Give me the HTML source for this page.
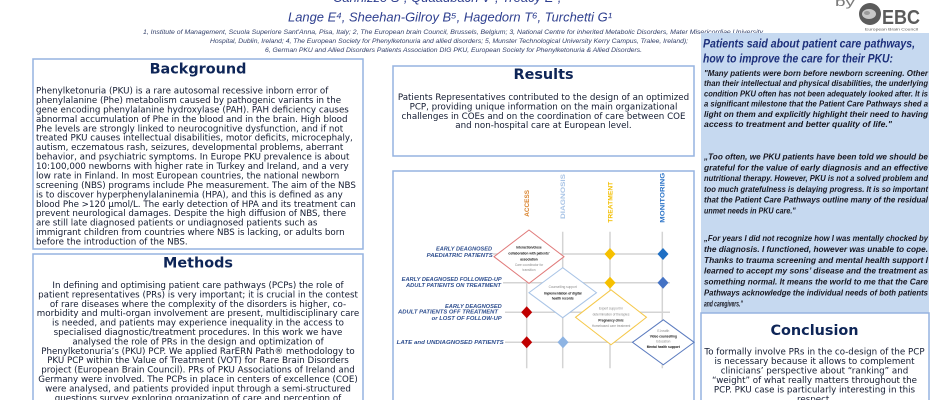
<!DOCTYPE html>
<html><head><meta charset="utf-8"><style>
html,body{margin:0;padding:0;background:#fff;width:940px;height:400px;overflow:hidden}
svg{display:block}
.b{font-family:"DejaVu Sans","Liberation Sans",sans-serif;font-size:8.7px;fill:#121a30}
.t{font-family:"DejaVu Sans","Liberation Sans",sans-serif;font-size:14.4px;font-weight:bold;fill:#0e2557}
.q{font-family:"Liberation Sans",sans-serif;font-size:7.8px;font-weight:bold;font-style:italic;fill:#16161f}
.h{font-family:"Liberation Sans",sans-serif;font-size:12.2px;font-weight:bold;font-style:italic;fill:#1c2f7a}
.af{font-family:"Liberation Sans",sans-serif;font-size:6px;font-style:italic;fill:#33406a}
.rl{font-family:"Liberation Sans",sans-serif;font-size:5.4px;font-weight:bold;font-style:italic;fill:#2f4f8f}
.dk{font-family:"Liberation Sans",sans-serif;font-size:3.2px;font-weight:bold;fill:#111}
.dg{font-family:"Liberation Sans",sans-serif;font-size:3.2px;fill:#8a8a8a}
.ch{font-family:"Liberation Sans",sans-serif;font-size:6.5px;font-weight:bold}
</style></head><body>
<svg width="940" height="400" viewBox="0 0 940 400" xmlns="http://www.w3.org/2000/svg">
<!-- Header -->
<text x="333" y="2" textLength="234" lengthAdjust="spacingAndGlyphs" style="font-family:'Liberation Sans',sans-serif;font-size:13px;font-style:italic;fill:#2e3f8f">Cannizzo S¹, Quaadbach V², Treacy E³,⁴</text>
<text x="288" y="21.5" textLength="324" lengthAdjust="spacingAndGlyphs" style="font-family:'Liberation Sans',sans-serif;font-size:13px;font-style:italic;fill:#2e3f8f">Lange E⁴, Sheehan-Gilroy B⁵, Hagedorn T⁶, Turchetti G¹</text>
<text class="af" x="143" y="34" textLength="620" lengthAdjust="spacingAndGlyphs">1, Institute of Management, Scuola Superiore Sant'Anna, Pisa, Italy; 2, The European brain Council, Brussels, Belgium; 3, National Centre for inherited Metabolic Disorders, Mater Misericordiae University</text>
<text class="af" x="210" y="43" textLength="478" lengthAdjust="spacingAndGlyphs">Hospital, Dublin, Ireland; 4, The European Society for Phenylketonuria and allied disorders; 5, Munster Technological University Kerry Campus, Tralee, Ireland);</text>
<text class="af" x="265" y="52" textLength="377" lengthAdjust="spacingAndGlyphs">6, German PKU and Allied Disorders Patients Association DIG PKU, European Society for Phenylketonuria &amp; Allied Disorders.</text>

<!-- EBC logo -->
<text x="835" y="6" textLength="20" lengthAdjust="spacingAndGlyphs" style="font-family:'Liberation Sans',sans-serif;font-size:12px;fill:#7a7a7a">by</text>
<circle cx="870" cy="14" r="11" fill="#5b5b5b"/>
<ellipse cx="869" cy="14" rx="7" ry="5" fill="#c8c8c8"/>
<ellipse cx="867" cy="13" rx="3" ry="2" fill="#9a9a9a"/>
<text x="882" y="24" textLength="38" lengthAdjust="spacingAndGlyphs" style="font-family:'Liberation Sans',sans-serif;font-size:20px;font-weight:bold;fill:#5b5b5b">EBC</text>
<text x="865" y="30.5" textLength="53" lengthAdjust="spacingAndGlyphs" style="font-family:'Liberation Sans',sans-serif;font-size:4px;fill:#555">European Brain Council</text>

<!-- Background box -->
<rect x="33" y="59" width="330" height="190" fill="#fff" stroke="#95b3e0" stroke-width="1.5"/>
<text class="t" x="198" y="73.5" text-anchor="middle">Background</text>
<g class="b">
<text x="36" y="93.5">Phenylketonuria (PKU) is a rare autosomal recessive inborn error of</text>
<text x="36" y="102.94">phenylalanine (Phe) metabolism caused by pathogenic variants in the</text>
<text x="36" y="112.38">gene encoding phenylalanine hydroxylase (PAH). PAH deficiency causes</text>
<text x="36" y="121.82">abnormal accumulation of Phe in the blood and in the brain. High blood</text>
<text x="36" y="131.26">Phe levels are strongly linked to neurocognitive dysfunction, and if not</text>
<text x="36" y="140.7">treated PKU causes intellectual disabilities, motor deficits, microcephaly,</text>
<text x="36" y="150.14">autism, eczematous rash, seizures, developmental problems, aberrant</text>
<text x="36" y="159.58">behavior, and psychiatric symptoms. In Europe PKU prevalence is about</text>
<text x="36" y="169.02">10:100,000 newborns with higher rate in Turkey and Ireland, and a very</text>
<text x="36" y="178.46">low rate in Finland. In most European countries, the national newborn</text>
<text x="36" y="187.9">screening (NBS) programs include Phe measurement. The aim of the NBS</text>
<text x="36" y="197.34">is to discover hyperphenylalaninemia (HPA), and this is defined as any</text>
<text x="36" y="206.78">blood Phe &gt;120 µmol/L. The early detection of HPA and its treatment can</text>
<text x="36" y="216.22">prevent neurological damages. Despite the high diffusion of NBS, there</text>
<text x="36" y="225.66">are still late diagnosed patients or undiagnosed patients such as</text>
<text x="36" y="235.1">immigrant children from countries where NBS is lacking, or adults born</text>
<text x="36" y="244.54">before the introduction of the NBS.</text>
</g>

<!-- Methods box -->
<rect x="33" y="254" width="330" height="160" fill="#fff" stroke="#95b3e0" stroke-width="1.5"/>
<text class="t" x="198" y="267.5" text-anchor="middle">Methods</text>
<g class="b" text-anchor="middle">
<text x="198" y="288">In defining and optimising patient care pathways (PCPs) the role of</text>
<text x="198" y="297.4">patient representatives (PRs) is very important; it is crucial in the contest</text>
<text x="198" y="306.8">of rare diseases where the complexity of the disorders is higher, co-</text>
<text x="198" y="316.2">morbidity and multi-organ involvement are present, multidisciplinary care</text>
<text x="198" y="325.6">is needed, and patients may experience inequality in the access to</text>
<text x="198" y="335">specialised diagnostic/treatment procedures. In this work we have</text>
<text x="198" y="344.4">analysed the role of PRs in the design and optimization of</text>
<text x="198" y="353.8">Phenylketonuria’s (PKU) PCP. We applied RarERN Path® methodology to</text>
<text x="198" y="363.2">PKU PCP within the Value of Treatment (VOT) for Rare Brain Disorders</text>
<text x="198" y="372.6">project (European Brain Council). PRs of PKU Associations of Ireland and</text>
<text x="198" y="382">Germany were involved. The PCPs in place in centers of excellence (COE)</text>
<text x="198" y="391.4">were analysed, and patients provided input through a semi-structured</text>
<text x="198" y="400.8">questions survey exploring organization of care and perception of</text>
</g>

<!-- Results box -->
<rect x="393" y="66" width="301" height="90" fill="#fff" stroke="#95b3e0" stroke-width="1.5"/>
<text class="t" x="543.5" y="78.8" text-anchor="middle">Results</text>
<g class="b" text-anchor="middle">
<text x="543.5" y="100">Patients Representatives contributed to the design of an optimized</text>
<text x="543.5" y="109.4">PCP, providing unique information on the main organizational</text>
<text x="543.5" y="118.8">challenges in COEs and on the coordination of care between COE</text>
<text x="543.5" y="128.2">and non-hospital care at European level.</text>
</g>

<!-- Diagram box -->
<rect x="393" y="171" width="301" height="240" fill="#fff" stroke="#95b3e0" stroke-width="1.5"/>
<text class="ch" transform="translate(529,216.7) rotate(-90)" textLength="26.7" lengthAdjust="spacingAndGlyphs" fill="#d9822b">ACCESS</text>
<text class="ch" transform="translate(565,219) rotate(-90)" textLength="45" lengthAdjust="spacingAndGlyphs" fill="#a9c4e6">DIAGNOSIS</text>
<text class="ch" transform="translate(612.3,222.7) rotate(-90)" textLength="41" lengthAdjust="spacingAndGlyphs" fill="#f2be00">TREATMENT</text>
<text class="ch" transform="translate(664.6,222.7) rotate(-90)" textLength="50" lengthAdjust="spacingAndGlyphs" fill="#2e75c8">MONITORING</text>
<g stroke="#d4d4d4" stroke-width="1.5">
<line x1="526.7" y1="231.7" x2="526.7" y2="368.3"/>
<line x1="562.7" y1="231.7" x2="562.7" y2="368.3"/>
<line x1="610" y1="231.7" x2="610" y2="368.3"/>
<line x1="662.3" y1="231.7" x2="662.3" y2="368.3"/>
<line x1="493" y1="254" x2="663" y2="254"/>
<line x1="503" y1="282.7" x2="670" y2="282.7"/>
<line x1="505" y1="312.3" x2="670" y2="312.3"/>
<line x1="505" y1="342.3" x2="633" y2="342.3"/>
</g>
<text class="rl" x="436" y="250.5" textLength="56" lengthAdjust="spacingAndGlyphs">EARLY DEAGNOSED</text>
<text class="rl" x="426.7" y="257" textLength="66" lengthAdjust="spacingAndGlyphs">PAEDIATRIC PATIENTS</text>
<text class="rl" x="401.7" y="280.8" textLength="100" lengthAdjust="spacingAndGlyphs">EARLY DEAGNOSED FOLLOWED-UP</text>
<text class="rl" x="406" y="286.8" textLength="95" lengthAdjust="spacingAndGlyphs">ADULT PATIENTS ON TREATMENT</text>
<text class="rl" x="445" y="307.8" textLength="56.7" lengthAdjust="spacingAndGlyphs">EARLY DEAGNOSED</text>
<text class="rl" x="398" y="313.5" textLength="100" lengthAdjust="spacingAndGlyphs">ADULT PATIENTS OFF TREATMENT</text>
<text class="rl" x="431.7" y="319.8" textLength="70" lengthAdjust="spacingAndGlyphs">or LOST OF FOLLOW-UP</text>
<text class="rl" x="396.7" y="344.1" textLength="107" lengthAdjust="spacingAndGlyphs">LATE and UNDIAGNOSED PATIENTS</text>
<polygon points="562.7,267.7 596.5,292.7 562.7,317.7 528.9,292.7" fill="#fff" stroke="#a9c4e6" stroke-width="1"/>
<polygon points="529,230 564,256.7 529,283.4 494,256.7" fill="#fff" stroke="#e07a7a" stroke-width="1"/>
<polygon points="611,289.8 646.5,317.3 611,344.8 575.5,317.3" fill="#fff" stroke="#f5c84a" stroke-width="1"/>
<polygon points="663.3,319.8 694.1,342.3 663.3,364.8 632.5,342.3" fill="#fff" stroke="#5b7bbf" stroke-width="1"/>
<g text-anchor="middle">
<text class="dk" x="529" y="248.5">Interaction/close</text>
<text class="dk" x="529" y="254.5">collaboration with patients'</text>
<text class="dk" x="529" y="260.5">association</text>
<text class="dg" x="529" y="265.8">Care coordinator for</text>
<text class="dg" x="529" y="271">transition</text>
<text class="dg" x="562.7" y="288">Counselling support</text>
<text class="dk" x="562.7" y="294.5">Implementation of digital</text>
<text class="dk" x="562.7" y="299.5">health records</text>
<text class="dg" x="611" y="309.5">Expert support in</text>
<text class="dg" x="611" y="315.5">determination of therapies</text>
<text class="dk" x="611" y="321.5">Pregnancy clinic</text>
<text class="dg" x="611" y="327">Homebased care treatment</text>
<text class="dg" x="663.3" y="332">E-health</text>
<text class="dk" x="663.3" y="337.5">Video counselling</text>
<text class="dg" x="663.3" y="342.7">Education</text>
<text class="dk" x="663.3" y="348">Mental health support</text>
</g>
<polygon points="610,248 615.5,254 610,260 604.5,254" fill="#f6c000"/>
<polygon points="610,276.7 615.5,282.7 610,288.7 604.5,282.7" fill="#f6c000"/>
<polygon points="663,248 668.5,254 663,260 657.5,254" fill="#1f6fc4"/>
<polygon points="663,276.7 668.5,282.7 663,288.7 657.5,282.7" fill="#4472c4"/>
<polygon points="526.7,306.3 532.2,312.3 526.7,318.3 521.2,312.3" fill="#c00000"/>
<polygon points="526.7,336.3 532.2,342.3 526.7,348.3 521.2,342.3" fill="#c00000"/>
<polygon points="563,336.3 568.5,342.3 563,348.3 557.5,342.3" fill="#8eb4e3"/>

<!-- Right panel -->
<rect x="701" y="33" width="228" height="280" fill="#c6d9f0"/>
<text class="h" x="703" y="47.5" textLength="212" lengthAdjust="spacingAndGlyphs">Patients said about patient care pathways,</text>
<text class="h" x="703" y="62.5" textLength="190" lengthAdjust="spacingAndGlyphs">how to improve the care for their PKU:</text>
<g class="q">
<text x="704" y="76" textLength="224" lengthAdjust="spacingAndGlyphs">"Many patients were born before newborn screening. Other</text>
<text x="704" y="86.2" textLength="224" lengthAdjust="spacingAndGlyphs">than their intellectual and physical disabilities, the underlying</text>
<text x="704" y="96.4" textLength="224" lengthAdjust="spacingAndGlyphs">condition PKU often has not been adequately looked after. It is</text>
<text x="704" y="106.6" textLength="224" lengthAdjust="spacingAndGlyphs">a significant milestone that the Patient Care Pathways shed a</text>
<text x="704" y="116.8" textLength="224" lengthAdjust="spacingAndGlyphs">light on them and explicitly highlight their need to having</text>
<text x="704" y="127" textLength="188" lengthAdjust="spacingAndGlyphs">access to treatment and better quality of life."</text>

<text x="704" y="159.5" textLength="224" lengthAdjust="spacingAndGlyphs">„Too often, we PKU patients have been told we should be</text>
<text x="704" y="170.3" textLength="224" lengthAdjust="spacingAndGlyphs">grateful for the value of early diagnosis and an effective</text>
<text x="704" y="181.1" textLength="224" lengthAdjust="spacingAndGlyphs">nutritional therapy. However, PKU is not a solved problem and</text>
<text x="704" y="191.9" textLength="224" lengthAdjust="spacingAndGlyphs">too much gratefulness is delaying progress. It is so important</text>
<text x="704" y="202.7" textLength="224" lengthAdjust="spacingAndGlyphs">that the Patient Care Pathways outline many of the residual</text>
<text x="704" y="213.5" textLength="91.7" lengthAdjust="spacingAndGlyphs">unmet needs in PKU care."</text>

<text x="704" y="241" textLength="224" lengthAdjust="spacingAndGlyphs">„For years I did not recognize how I was mentally chocked by</text>
<text x="704" y="251.9" textLength="224" lengthAdjust="spacingAndGlyphs">the diagnosis. I functioned, however was unable to cope.</text>
<text x="704" y="262.8" textLength="224" lengthAdjust="spacingAndGlyphs">Thanks to trauma screening and mental health support I</text>
<text x="704" y="273.7" textLength="224" lengthAdjust="spacingAndGlyphs">learned to accept my sons’ disease and the treatment as</text>
<text x="704" y="284.6" textLength="224" lengthAdjust="spacingAndGlyphs">something normal. It means the world to me that the Care</text>
<text x="704" y="295.5" textLength="224" lengthAdjust="spacingAndGlyphs">Pathways acknowledge the individual needs of both patients</text>
<text x="704" y="306.4" textLength="38.7" lengthAdjust="spacingAndGlyphs">and caregivers."</text>
</g>

<!-- Conclusion box -->
<rect x="701" y="313" width="228" height="100" fill="#fff" stroke="#95b3e0" stroke-width="1.5"/>
<text class="t" x="814.5" y="335" text-anchor="middle">Conclusion</text>
<g class="b" text-anchor="middle">
<text x="814.5" y="354.5">To formally involve PRs in the co-design of the PCP</text>
<text x="814.5" y="364">is necessary because it allows to complement</text>
<text x="814.5" y="373.5">clinicians’ perspective about “ranking” and</text>
<text x="814.5" y="383">“weight” of what really matters throughout the</text>
<text x="814.5" y="392.5">PCP. PKU case is particularly interesting in this</text>
<text x="814.5" y="402">respect.</text>
</g>
</svg>
</body></html>
